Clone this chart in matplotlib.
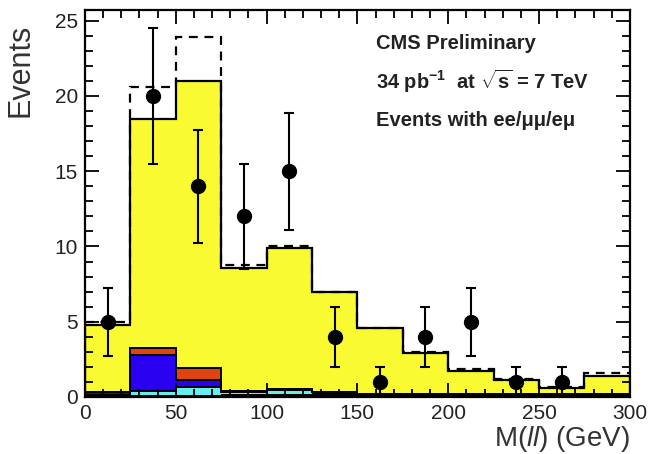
import numpy as np
import matplotlib
matplotlib.use("Agg")
import matplotlib.pyplot as plt
from matplotlib.ticker import MultipleLocator

plt.rcParams['font.family'] = ['Liberation Sans', 'DejaVu Sans']
plt.rcParams['mathtext.fontset'] = 'custom'
plt.rcParams['mathtext.rm'] = 'Liberation Sans'
plt.rcParams['mathtext.it'] = 'Liberation Sans:italic'
plt.rcParams['mathtext.bf'] = 'Liberation Sans:bold'

# binning (GeV)
edges = [0, 25, 50, 75, 100, 125, 150, 175, 200, 225, 250, 275, 300]

# stacked expectation, bottom to top
other = [0.1, 0.1, 0.1, 0.2, 0.2, 0.25, 0.2, 0.2, 0.2, 0.2, 0.2, 0.2]
cyan_bkg = [0.05, 0.3, 0.55, 0.15, 0.25, 0.05, 0.0, 0.0, 0.0, 0.0, 0.0, 0.0]
blue_bkg = [0.2, 2.4, 0.5, 0.05, 0.05, 0.0, 0.0, 0.0, 0.0, 0.0, 0.0, 0.0]
red_bkg = [0.0, 0.45, 0.8, 0.0, 0.0, 0.0, 0.0, 0.0, 0.0, 0.0, 0.0, 0.0]
total_mc = [4.8, 18.5, 21.0, 8.6, 9.9, 7.0, 4.6, 2.95, 1.75, 1.13, 0.6, 1.4]
# dashed total
total_dashed = [5.0, 20.6, 23.9, 8.8, 10.0, 7.0, 4.6, 3.0, 1.85, 1.2, 0.65, 1.6]

# data
data_x = [12.5, 37.5, 62.5, 87.5, 112.5, 137.5, 162.5, 187.5, 212.5, 237.5, 262.5]
data_y = [5, 20, 14, 12, 15, 4, 1, 4, 5, 1, 1]
data_err = [2.25, 4.5, 3.75, 3.5, 3.9, 2.0, 1.0, 2.0, 2.25, 1.0, 1.0]

fig = plt.figure(figsize=(6.48, 4.54), dpi=100)
ax = fig.add_axes([0.131, 0.1256, 0.841, 0.852])

layers = [(other, 'black'), (cyan_bkg, '#66eeee'), (blue_bkg, '#2a00f0'),
          (red_bkg, '#dd4411')]
bottom = np.zeros(len(other))
bounds = []
for vals, col in layers:
    top = bottom + np.array(vals)
    bounds.append((bottom.copy(), top.copy(), col))
    bottom = top

# yellow on top up to the total
ax.stairs(total_mc, edges, baseline=bottom, fill=True, color='#fafa32', zorder=1)
ax.stairs(total_mc, edges, baseline=0, color='black', lw=1.6, zorder=2)
for lo, hi, col in bounds:
    ax.stairs(hi, edges, baseline=lo, fill=True, color=col, zorder=1.2)
    if hi.max() > 0.3:
        ax.stairs(hi, edges, baseline=None, color='black', lw=1.4, zorder=2)

ax.stairs(total_dashed, edges, baseline=None, color='black', lw=1.6,
          linestyle=(0, (4, 3)), zorder=3)

ax.errorbar(data_x, data_y, yerr=data_err, fmt='o', color='black', ms=10,
            elinewidth=1.5, capsize=3.5, capthick=1.5, zorder=4)

ax.set_xlim(0, 300)
ax.set_ylim(0, 25.7)
ax.xaxis.set_major_locator(MultipleLocator(50))
ax.xaxis.set_minor_locator(MultipleLocator(10))
ax.yaxis.set_major_locator(MultipleLocator(5))
ax.yaxis.set_minor_locator(MultipleLocator(1))
ax.tick_params(which='both', direction='in', top=True, right=True,
               width=1.3, colors='black', labelcolor='#222222', labelsize=15)
ax.tick_params(which='major', length=10, pad=5)
ax.tick_params(which='minor', length=6)
for s in ax.spines.values():
    s.set_linewidth(1.6)

ax.set_ylabel('Events', fontsize=22, color='#333333', loc='top')
ax.yaxis.set_label_coords(-0.09, 0.966)
ax.set_xlabel(r'M($\mathit{ll}$) (GeV)', fontsize=20, color='#333333',
              loc='right', labelpad=1)

tx = 0.535
fs = 14.5
ax.text(tx, 0.915, 'CMS Preliminary', transform=ax.transAxes, fontsize=fs,
        fontweight='bold', color='#222222', va='center')
ax.text(tx, 0.815, r'34 pb$^{\mathbf{-1}}$  at $\sqrt{\mathbf{s}}$ = 7 TeV',
        transform=ax.transAxes, fontsize=fs, fontweight='bold',
        color='#222222', va='center')
ax.text(tx, 0.715, 'Events with ee/μμ/eμ', transform=ax.transAxes,
        fontsize=fs, fontweight='bold', color='#222222', va='center')

fig.savefig('out.png', dpi=100)
